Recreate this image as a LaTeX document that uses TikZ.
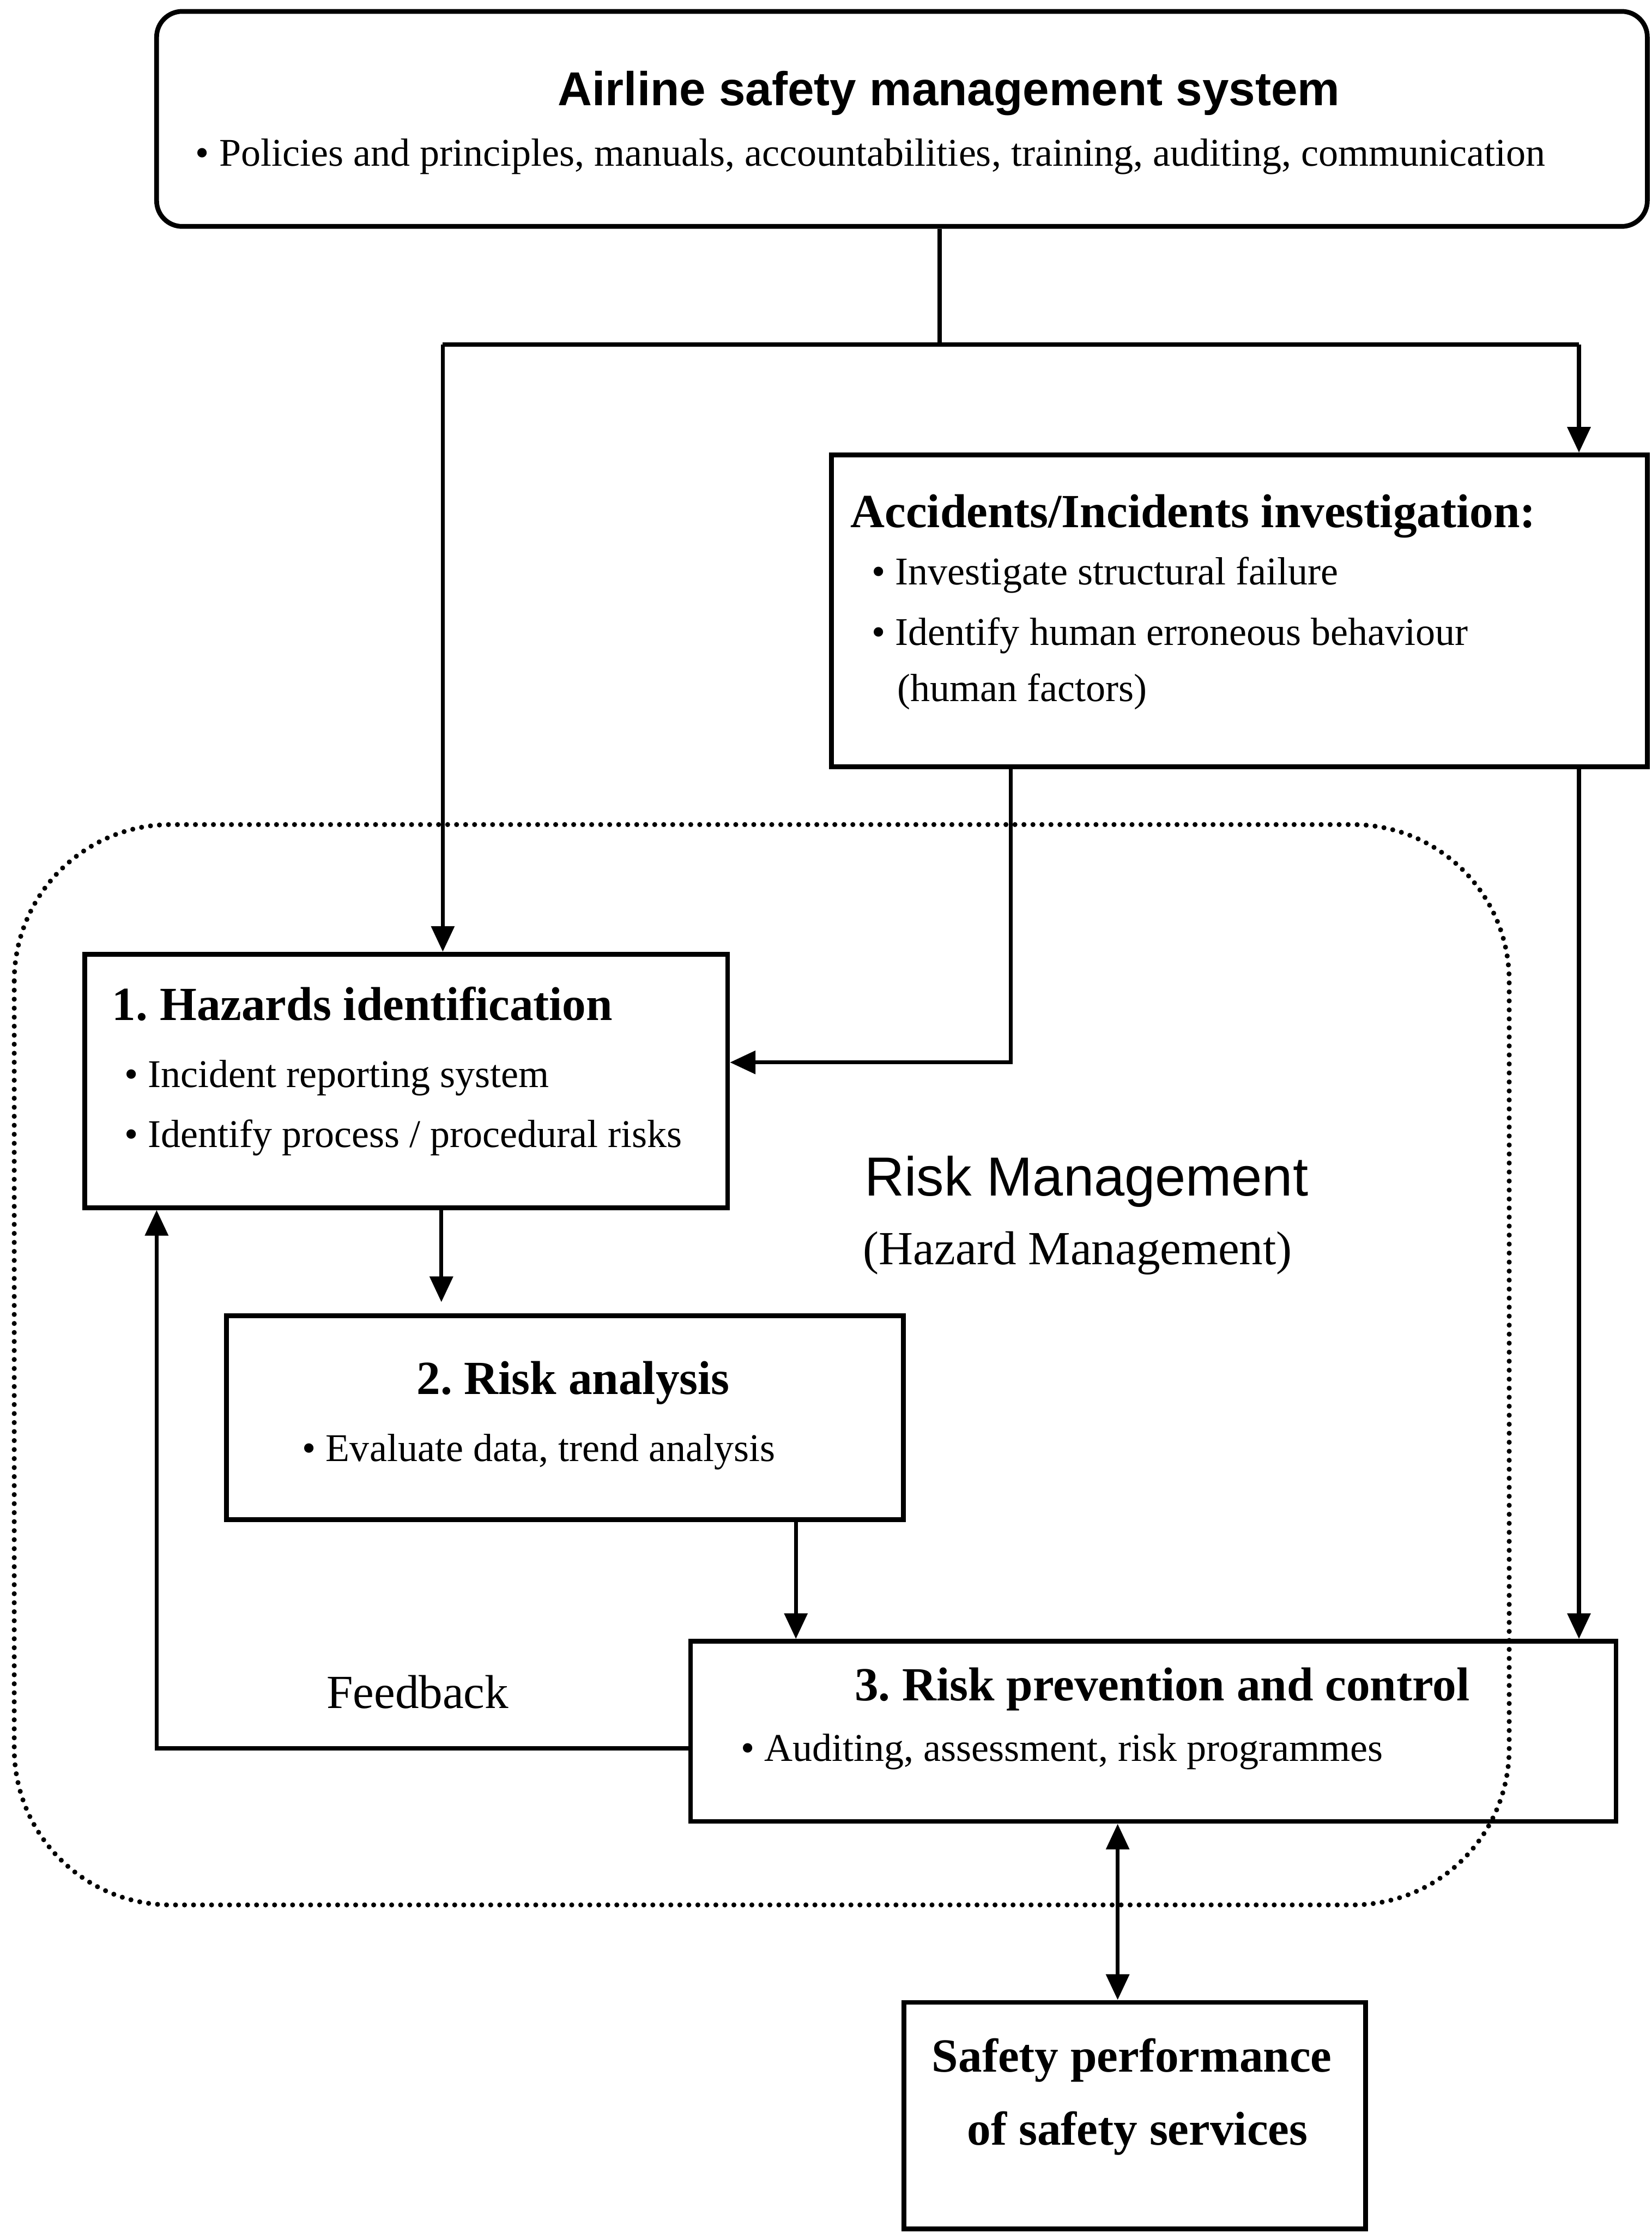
\documentclass[tikz,border=0pt]{standalone}
\usepackage{fontspec}
\setmainfont{Liberation Serif}
\newfontfamily\sansfam{Liberation Sans}
\usetikzlibrary{arrows.meta,fit}

% font sizes used in the chart
\newcommand\hdfont{\fontsize{19}{23}\selectfont\bfseries}
\newcommand\bodyfont{\fontsize{15.7}{20}\selectfont}
\newcommand\topfont{\sansfam\fontsize{19}{23}\selectfont\bfseries}
\newcommand\areafont{\sansfam\fontsize{22}{26}\selectfont}
\newcommand\notefont{\fontsize{19}{23}\selectfont}

\tikzset{
  box/.style={draw, line width=1.9pt, rectangle, inner sep=0pt},
  roundbox/.style={box, rounded corners=0.36cm},
  txt/.style={inner sep=0pt, anchor=base west},
  ctxt/.style={inner sep=0pt, anchor=base},
  link/.style={line width=1.6pt},
  arr/.style={link, -{Triangle[length=0.36cm,width=0.32cm]}},
  darr/.style={link, {Triangle[length=0.36cm,width=0.32cm]}-{Triangle[length=0.36cm,width=0.32cm]}},
  region/.style={line width=2pt, line cap=round, dash pattern=on 0pt off 3.6pt, rounded corners=2.2cm}
}

\begin{document}
\begin{tikzpicture}[x=0.02cm,y=-0.02cm]
\useasboundingbox (0,0) rectangle (1160,1568);

% dotted risk-management region
\draw[region] (10,579) rectangle (1060,1337.6);

% box corners
\coordinate (smsA) at (110,8);     \coordinate (smsZ) at (1157,159);
\coordinate (aiA) at (584,319.5);  \coordinate (aiZ) at (1157,538.5);
\coordinate (hzA) at (59.5,670);   \coordinate (hzZ) at (511,848);
\coordinate (raA) at (159,924);    \coordinate (raZ) at (634.5,1067);
\coordinate (rpA) at (485,1152.5); \coordinate (rpZ) at (1135,1279);
\coordinate (spA) at (635,1406);   \coordinate (spZ) at (959,1565);

% boxes
\node[roundbox, fit=(smsA) (smsZ)] (sms) {};
\node[box, fit=(aiA) (aiZ)] (ai) {};
\node[box, fit=(hzA) (hzZ)] (hz) {};
\node[box, fit=(raA) (raZ)] (ra) {};
\node[box, fit=(rpA) (rpZ)] (rp) {};
\node[box, fit=(spA) (spZ)] (sp) {};

% texts
\node[ctxt, font=\topfont] (smsT) at (666.5,74) {Airline safety management system};
\node[txt, font=\bodyfont] (smsB) at (137,116.4) {\textbullet\ Policies and principles, manuals, accountabilities, training, auditing, communication};

\node[txt, font=\hdfont] (aiT) at (597,370.3) {Accidents/Incidents investigation:};
\node[txt, font=\bodyfont] (aiB1) at (612,410.5) {\textbullet\ Investigate structural failure};
\node[txt, font=\bodyfont] (aiB2) at (612,452.9) {\textbullet\ Identify human erroneous behaviour};
\node[txt, font=\bodyfont] (aiB3) at (630,492.5) {(human factors)};

\node[txt, font=\hdfont] (hzT) at (78.5,716.6) {1.\ Hazards identification};
\node[txt, font=\bodyfont] (hzB1) at (87,763.5) {\textbullet\ Incident reporting system};
\node[txt, font=\bodyfont] (hzB2) at (87,805.6) {\textbullet\ Identify process / procedural risks};

\node[txt, font=\areafont] (rmT) at (607,839.6) {Risk Management};
\node[txt, font=\notefont] (rmS) at (606,888) {(Hazard Management)};

\node[ctxt, font=\hdfont] (raT) at (402.6,979) {2.\ Risk analysis};
\node[txt, font=\bodyfont] (raB) at (212,1026) {\textbullet\ Evaluate data, trend analysis};

\node[txt, font=\notefont] (fbT) at (229,1199.6) {Feedback};

\node[txt, font=\hdfont] (rpT) at (600,1194) {3.\ Risk prevention and control};
\node[txt, font=\bodyfont] (rpB) at (520,1236.6) {\textbullet\ Auditing, assessment, risk programmes};

\node[ctxt, font=\hdfont] (spT1) at (795,1455) {Safety performance};
\node[ctxt, font=\hdfont] (spT2) at (799,1506) {of safety services};

% junction points of the connectors
\coordinate (jM) at (660,242);
\coordinate (jL) at (311,242);
\coordinate (jR) at (1109,242);
\coordinate (k1) at (710,746);
\coordinate (xa) at (310,0);
\coordinate (xb) at (559,0);
\coordinate (fb) at (110,1227.6);
\coordinate (xd) at (785,0);

% connectors
\draw[link] (sms.south -| jM) -- (jM);
\draw[link] (jL) -- (jR);
\draw[arr] (jL) -- (jL |- hz.north);
\draw[arr] (jR) -- (jR |- ai.north);
\draw[arr] (ai.south -| k1) -- (k1) -- (k1 -| hz.east);
\draw[arr] (ai.south -| jR) -- (jR |- rp.north);
\draw[arr, shorten >=0.16cm] (hz.south -| xa) -- (ra.north -| xa);
\draw[arr] (ra.south -| xb) -- (rp.north -| xb);
\draw[arr] (fb -| rp.west) -- (fb) -- (fb |- hz.south);
\draw[darr] (rp.south -| xd) -- (sp.north -| xd);
\end{tikzpicture}
\end{document}
